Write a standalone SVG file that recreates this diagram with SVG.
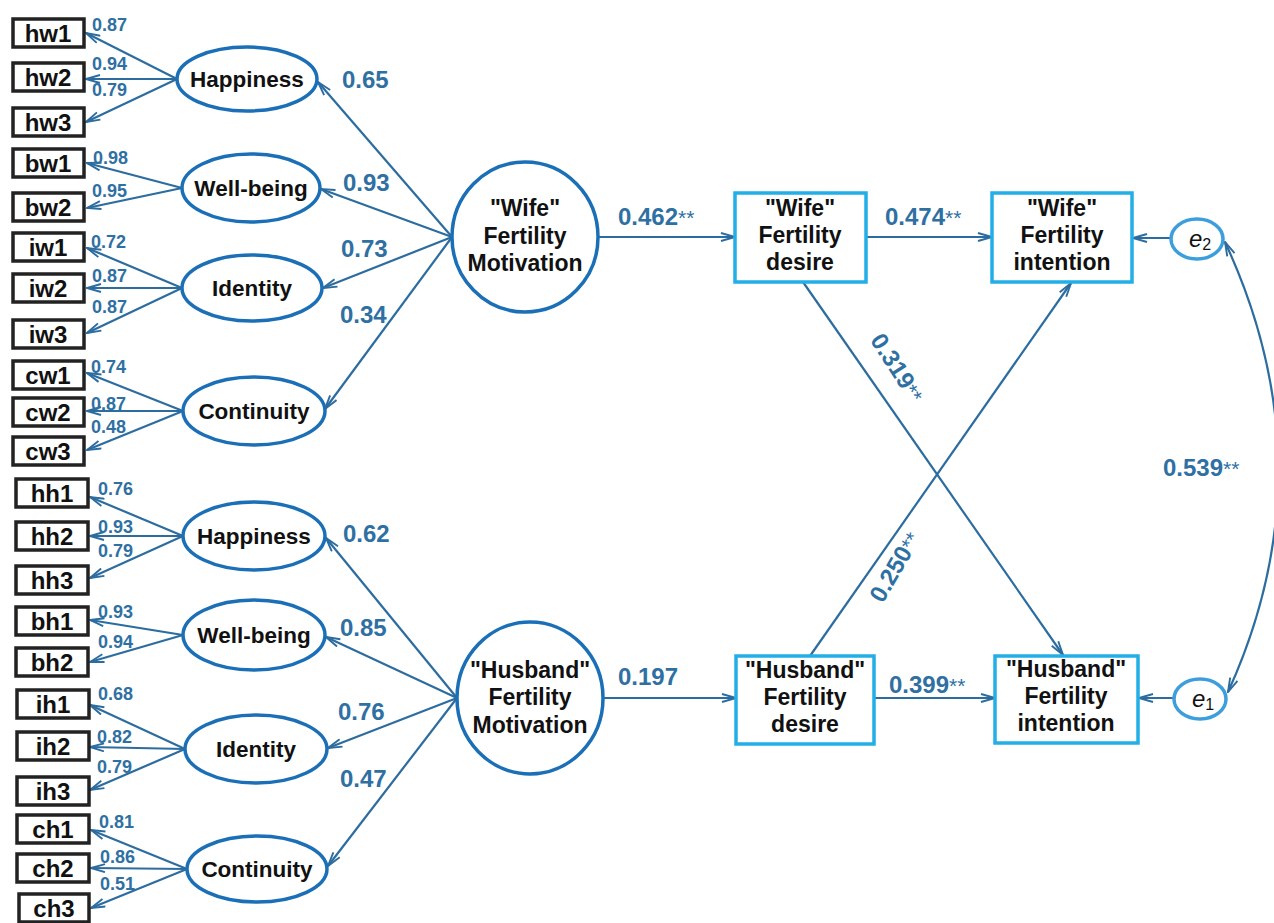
<svg xmlns="http://www.w3.org/2000/svg" width="1274" height="923" viewBox="0 0 1274 923">
<style>
text{font-family:"Liberation Sans",Arial,sans-serif;font-weight:bold}
.obs{fill:#fff;stroke:#222;stroke-width:3.5}
.obt{font-size:24px;fill:#111;text-anchor:middle}
.lat{fill:#fff;stroke:#1b6fb6;stroke-width:3.5}
.lt{font-size:22.5px;fill:#111;text-anchor:middle}
.big{font-size:23px;fill:#111;text-anchor:middle}
.bx{fill:#fff;stroke:#22aee6;stroke-width:3.5}
.err{fill:#fff;stroke:#3c9fdc;stroke-width:3.5}
.ln{fill:none;stroke:#2c6c9f;stroke-width:2.2;marker-end:url(#ah)}
.sl{font-size:18px;fill:#2f70a3}
.ml{font-size:24px;fill:#2f70a3}
.st{font-size:21px;font-weight:normal}
</style>
<defs>
<marker id="ah" viewBox="0 0 16 10" refX="15" refY="5" markerWidth="16" markerHeight="10" markerUnits="userSpaceOnUse" orient="auto-start-reverse">
<path d="M1,1 L15,5 L1,9" fill="none" stroke="#2c6c9f" stroke-width="1.9"/>
</marker>
</defs>

<g id="connectors">
<line class="ln" x1="177" y1="79" x2="86" y2="33"/>
<line class="ln" x1="177" y1="79" x2="86" y2="79"/>
<line class="ln" x1="177" y1="79" x2="86" y2="122"/>
<line class="ln" x1="182" y1="188" x2="87" y2="163"/>
<line class="ln" x1="182" y1="188" x2="87" y2="208"/>
<line class="ln" x1="182" y1="288" x2="87" y2="248"/>
<line class="ln" x1="182" y1="288" x2="87" y2="288"/>
<line class="ln" x1="182" y1="288" x2="87" y2="333"/>
<line class="ln" x1="183" y1="411" x2="87" y2="373"/>
<line class="ln" x1="183" y1="411" x2="87" y2="411"/>
<line class="ln" x1="183" y1="411" x2="87" y2="450"/>
<line class="ln" x1="183" y1="536" x2="90" y2="497"/>
<line class="ln" x1="183" y1="536" x2="90" y2="536"/>
<line class="ln" x1="183" y1="536" x2="90" y2="578"/>
<line class="ln" x1="183" y1="635" x2="90" y2="620"/>
<line class="ln" x1="183" y1="635" x2="90" y2="662"/>
<line class="ln" x1="185" y1="749" x2="90" y2="705"/>
<line class="ln" x1="185" y1="749" x2="90" y2="747"/>
<line class="ln" x1="185" y1="749" x2="90" y2="790"/>
<line class="ln" x1="187" y1="869" x2="91" y2="830"/>
<line class="ln" x1="187" y1="869" x2="91" y2="868"/>
<line class="ln" x1="187" y1="869" x2="91" y2="908"/>
<line class="ln" x1="452" y1="237" x2="318" y2="82"/>
<line class="ln" x1="452" y1="237" x2="321" y2="189"/>
<line class="ln" x1="452" y1="237" x2="323" y2="288"/>
<line class="ln" x1="452" y1="237" x2="325" y2="409"/>
<line class="ln" x1="457" y1="698" x2="326" y2="538"/>
<line class="ln" x1="457" y1="698" x2="326" y2="637"/>
<line class="ln" x1="457" y1="698" x2="328" y2="748"/>
<line class="ln" x1="457" y1="698" x2="328" y2="866"/>
<line class="ln" x1="598" y1="237" x2="735" y2="237"/>
<line class="ln" x1="603" y1="698" x2="736" y2="698"/>
<line class="ln" x1="866" y1="237" x2="992" y2="237"/>
<line class="ln" x1="874" y1="698" x2="995" y2="698"/>
<line class="ln" x1="803" y1="282" x2="1063" y2="655"/>
<line class="ln" x1="810" y1="656" x2="1071" y2="283"/>
<line class="ln" x1="1170" y1="238" x2="1133" y2="238"/>
<line class="ln" x1="1173" y1="698" x2="1139" y2="698"/>
<path class="ln" d="M1225,242 Q1330,468 1228,692" style="marker-start:url(#ah)"/>
</g>

<g id="labels">
<text class="sl" x="92" y="31">0.87</text>
<text class="sl" x="92" y="70">0.94</text>
<text class="sl" x="92" y="96">0.79</text>
<text class="sl" x="93" y="164">0.98</text>
<text class="sl" x="92" y="197">0.95</text>
<text class="sl" x="91" y="248">0.72</text>
<text class="sl" x="92" y="282">0.87</text>
<text class="sl" x="92" y="313">0.87</text>
<text class="sl" x="91" y="373">0.74</text>
<text class="sl" x="91" y="410">0.87</text>
<text class="sl" x="91" y="433">0.48</text>
<text class="sl" x="98" y="495">0.76</text>
<text class="sl" x="98" y="533">0.93</text>
<text class="sl" x="98" y="557">0.79</text>
<text class="sl" x="98" y="618">0.93</text>
<text class="sl" x="98" y="648">0.94</text>
<text class="sl" x="98" y="700">0.68</text>
<text class="sl" x="97" y="743">0.82</text>
<text class="sl" x="97" y="773">0.79</text>
<text class="sl" x="99" y="828">0.81</text>
<text class="sl" x="100" y="863">0.86</text>
<text class="sl" x="100" y="890">0.51</text>
<text class="ml" x="342" y="88">0.65</text>
<text class="ml" x="343" y="191">0.93</text>
<text class="ml" x="341" y="257">0.73</text>
<text class="ml" x="340" y="323">0.34</text>
<text class="ml" x="343" y="542">0.62</text>
<text class="ml" x="340" y="636">0.85</text>
<text class="ml" x="338" y="720">0.76</text>
<text class="ml" x="340" y="787">0.47</text>
<text class="ml" x="618" y="225">0.462<tspan class="st">**</tspan></text>
<text class="ml" x="885" y="225">0.474<tspan class="st">**</tspan></text>
<text class="ml" x="618" y="685">0.197</text>
<text class="ml" x="889" y="693">0.399<tspan class="st">**</tspan></text>
<text class="ml" x="1163" y="476">0.539<tspan class="st">**</tspan></text>
<text class="ml" transform="translate(897,368) rotate(57)" text-anchor="middle" y="8">0.319<tspan class="st">**</tspan></text>
<text class="ml" transform="translate(895,567) rotate(-60)" text-anchor="middle" y="8">0.250<tspan class="st">**</tspan></text>
</g>

<g id="obs-wife">
<g id="hw1"><rect class="obs" x="13" y="19" width="71" height="28"/><text class="obt" x="48" y="42">hw1</text></g>
<g id="hw2"><rect class="obs" x="13" y="63" width="71" height="28"/><text class="obt" x="48" y="86">hw2</text></g>
<g id="hw3"><rect class="obs" x="13" y="108" width="71" height="28"/><text class="obt" x="48" y="131">hw3</text></g>
<g id="bw1"><rect class="obs" x="13" y="149" width="71" height="28"/><text class="obt" x="48" y="172">bw1</text></g>
<g id="bw2"><rect class="obs" x="13" y="193" width="71" height="28"/><text class="obt" x="48" y="216">bw2</text></g>
<g id="iw1"><rect class="obs" x="13" y="233" width="71" height="28"/><text class="obt" x="48" y="256">iw1</text></g>
<g id="iw2"><rect class="obs" x="13" y="274" width="71" height="28"/><text class="obt" x="48" y="297">iw2</text></g>
<g id="iw3"><rect class="obs" x="13" y="320" width="71" height="28"/><text class="obt" x="48" y="343">iw3</text></g>
<g id="cw1"><rect class="obs" x="13" y="361" width="71" height="28"/><text class="obt" x="48" y="384">cw1</text></g>
<g id="cw2"><rect class="obs" x="13" y="398" width="71" height="28"/><text class="obt" x="48" y="421">cw2</text></g>
<g id="cw3"><rect class="obs" x="13" y="437" width="71" height="28"/><text class="obt" x="48" y="460">cw3</text></g>
</g>
<g id="obs-husband">
<g id="hh1"><rect class="obs" x="16" y="479" width="72" height="28"/><text class="obt" x="52" y="502">hh1</text></g>
<g id="hh2"><rect class="obs" x="16" y="522" width="72" height="28"/><text class="obt" x="52" y="545">hh2</text></g>
<g id="hh3"><rect class="obs" x="16" y="566" width="72" height="28"/><text class="obt" x="52" y="589">hh3</text></g>
<g id="bh1"><rect class="obs" x="16" y="607" width="72" height="28"/><text class="obt" x="52" y="630">bh1</text></g>
<g id="bh2"><rect class="obs" x="16" y="648" width="72" height="28"/><text class="obt" x="52" y="671">bh2</text></g>
<g id="ih1"><rect class="obs" x="17" y="690" width="72" height="28"/><text class="obt" x="53" y="713">ih1</text></g>
<g id="ih2"><rect class="obs" x="17" y="732" width="72" height="28"/><text class="obt" x="53" y="755">ih2</text></g>
<g id="ih3"><rect class="obs" x="17" y="777" width="72" height="28"/><text class="obt" x="53" y="800">ih3</text></g>
<g id="ch1"><rect class="obs" x="17" y="815" width="72" height="28"/><text class="obt" x="53" y="838">ch1</text></g>
<g id="ch2"><rect class="obs" x="17" y="854" width="72" height="28"/><text class="obt" x="53" y="877">ch2</text></g>
<g id="ch3"><rect class="obs" x="19" y="894" width="70" height="28"/><text class="obt" x="54" y="917">ch3</text></g>
</g>

<g id="w-happiness"><ellipse class="lat" cx="247" cy="79" rx="70" ry="32"/><text class="lt" x="247" y="87">Happiness</text></g>
<g id="w-wellbeing"><ellipse class="lat" cx="251" cy="188" rx="69" ry="34"/><text class="lt" x="251" y="196">Well-being</text></g>
<g id="w-identity"><ellipse class="lat" cx="252" cy="288" rx="70" ry="33"/><text class="lt" x="252" y="296">Identity</text></g>
<g id="w-continuity"><ellipse class="lat" cx="254" cy="411" rx="71" ry="34"/><text class="lt" x="254" y="419">Continuity</text></g>
<g id="h-happiness"><ellipse class="lat" cx="254" cy="536" rx="71" ry="34"/><text class="lt" x="254" y="544">Happiness</text></g>
<g id="h-wellbeing"><ellipse class="lat" cx="254" cy="635" rx="71" ry="35"/><text class="lt" x="254" y="643">Well-being</text></g>
<g id="h-identity"><ellipse class="lat" cx="256" cy="749" rx="71" ry="34"/><text class="lt" x="256" y="757">Identity</text></g>
<g id="h-continuity"><ellipse class="lat" cx="257" cy="869" rx="70" ry="33"/><text class="lt" x="257" y="877">Continuity</text></g>

<g id="wife-motivation"><ellipse class="lat" cx="525" cy="237" rx="73" ry="75"/>
<text class="big" x="525" y="216">"Wife"</text><text class="big" x="525" y="244">Fertility</text><text class="big" x="525" y="271">Motivation</text></g>
<g id="husband-motivation"><ellipse class="lat" cx="530" cy="698" rx="73" ry="76"/>
<text class="big" x="530" y="678">"Husband"</text><text class="big" x="530" y="705">Fertility</text><text class="big" x="530" y="733">Motivation</text></g>

<g id="wife-desire"><rect class="bx" x="735" y="193" width="131" height="89"/>
<text class="big" x="800" y="216">"Wife"</text><text class="big" x="800" y="243">Fertility</text><text class="big" x="800" y="270">desire</text></g>
<g id="wife-intention"><rect class="bx" x="992" y="193" width="140" height="89"/>
<text class="big" x="1062" y="216">"Wife"</text><text class="big" x="1062" y="243">Fertility</text><text class="big" x="1062" y="270">intention</text></g>
<g id="husband-desire"><rect class="bx" x="736" y="656" width="138" height="88"/>
<text class="big" x="805" y="678">"Husband"</text><text class="big" x="805" y="705">Fertility</text><text class="big" x="805" y="732">desire</text></g>
<g id="husband-intention"><rect class="bx" x="995" y="656" width="143" height="87"/>
<text class="big" x="1066" y="677">"Husband"</text><text class="big" x="1066" y="704">Fertility</text><text class="big" x="1066" y="731">intention</text></g>

<g id="e2"><ellipse class="err" cx="1197" cy="239" rx="26" ry="20"/><text x="1189" y="247" style="font-weight:normal;font-style:italic;font-size:24px;fill:#111">e<tspan style="font-style:normal;font-size:16px" dy="3">2</tspan></text></g>
<g id="e1"><ellipse class="err" cx="1200" cy="699" rx="26" ry="20"/><text x="1192" y="707" style="font-weight:normal;font-style:italic;font-size:24px;fill:#111">e<tspan style="font-style:normal;font-size:16px" dy="3">1</tspan></text></g>
</svg>
